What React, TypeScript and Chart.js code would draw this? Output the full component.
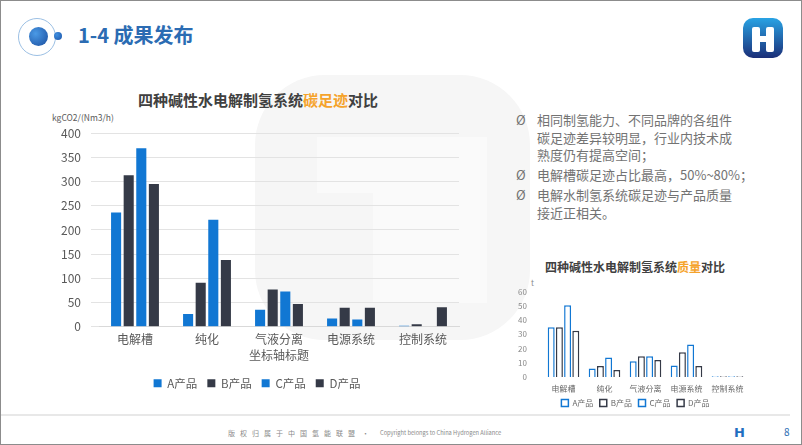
import React, { useEffect, useRef } from "react";
import { Chart, registerables } from "chart.js";
Chart.register(...registerables);

const categories = ["电解槽", "纯化", "气液分离", "电源系统", "控制系统"];
const seriesNames = ["A产品", "B产品", "C产品", "D产品"];
const carbonA = [236, 26, 35, 17, 2];
const carbonB = [313, 91, 77, 39, 5];
const carbonC = [369, 221, 73, 15, 0];
const carbonD = [295, 138, 47, 39, 40];
const massA = [35, 6, 11, 8, 0.4];
const massB = [35, 7.7, 14.5, 17.3, 0.4];
const massC = [50.5, 13.7, 14.5, 22.8, 0.4];
const massD = [32.5, 4.8, 12, 7.7, 0.4];
const carbonTicks = [0, 50, 100, 150, 200, 250, 300, 350, 400];
const massTicks = [0, 10, 20, 30, 40, 50, 60];

const FONT = "'Noto Sans CJK SC', 'Noto Sans', sans-serif";
const BLUE = "#1177d3";
const DARK = "#353a47";
const ORANGE = "#f5a32b";

function MainChart() {
  const ref = useRef<HTMLCanvasElement>(null);
  useEffect(() => {
    const colors = [BLUE, DARK, BLUE, DARK];
    const series = [carbonA, carbonB, carbonC, carbonD];
    const chart = new Chart(ref.current!, {
      type: "bar",
      data: {
        labels: categories,
        datasets: series.map((d, i) => ({
          label: seriesNames[i],
          data: d,
          backgroundColor: colors[i],
          borderWidth: 0,
          categoryPercentage: 0.7,
          barPercentage: 0.8,
        })),
      },
      options: {
        animation: false,
        responsive: false,
        maintainAspectRatio: false,
        layout: { padding: { top: 4, right: 21, bottom: 0, left: 15 } },
        plugins: {
          legend: {
            position: "bottom",
            labels: { boxWidth: 8, boxHeight: 8, color: "#595959", font: { family: FONT, size: 11.5 }, padding: 10 },
          },
          tooltip: { enabled: false },
        },
        scales: {
          x: {
            grid: { display: false },
            border: { display: true, color: "#d9d9d9" },
            ticks: { color: "#595959", font: { family: FONT, size: 12 }, padding: -2 },
            title: { display: true, text: "坐标轴标题", color: "#595959", font: { family: FONT, size: 12 }, padding: { top: 3, bottom: 5 } },
          },
          y: {
            min: 0,
            max: 400,
            afterBuildTicks: (s: any) => { s.ticks = carbonTicks.map((v) => ({ value: v })); },
            afterFit: (s: any) => { s.width = 44; },
            grid: { color: "#e3e3e3" },
            border: { display: false },
            ticks: { color: "#595959", font: { family: FONT, size: 12 }, padding: 10, autoSkip: false },
          },
        },
      },
    });
    return () => chart.destroy();
  }, []);
  return <canvas ref={ref} width={440} height={283} />;
}

const shiftLegend = {
  id: "shiftLegend",
  beforeDraw(chart: any) {
    const L = chart.legend;
    if (L && L.$shifted !== L.left) {
      L.left += 9;
      L.right += 9;
      L.$shifted = L.left;
    }
  },
};

function MassChart() {
  const ref = useRef<HTMLCanvasElement>(null);
  useEffect(() => {
    const colors = [BLUE, DARK, BLUE, DARK];
    const series = [massA, massB, massC, massD];
    const chart = new Chart(ref.current!, {
      type: "bar",
      data: {
        labels: categories,
        datasets: series.map((d, i) => ({
          label: seriesNames[i],
          data: d,
          backgroundColor: "#ffffff",
          borderColor: colors[i],
          borderWidth: 1.5,
          categoryPercentage: 0.8,
          barPercentage: 0.85,
        })),
      },
      options: {
        animation: false,
        responsive: false,
        maintainAspectRatio: false,
        layout: { padding: { top: 4, right: 22, bottom: 0, left: 0 } },
        plugins: {
          legend: {
            position: "bottom",
            labels: { boxWidth: 7, boxHeight: 7, color: "#666", font: { family: FONT, size: 8 }, padding: 6.5 },
          },
          tooltip: { enabled: false },
        },
        scales: {
          x: {
            grid: { display: false },
            border: { display: false },
            ticks: { color: "#666", font: { family: FONT, size: 8 }, padding: -1, maxRotation: 0, autoSkip: false },
          },
          y: {
            min: 0,
            max: 60,
            afterBuildTicks: (s: any) => { s.ticks = massTicks.map((v) => ({ value: v })); },
            afterFit: (s: any) => { s.width = 38; },
            grid: { display: false },
            border: { display: false },
            ticks: { color: "#888", font: { family: FONT, size: 8 }, padding: 8, autoSkip: false },
          },
        },
      },
      plugins: [shiftLegend],
    });
    return () => chart.destroy();
  }, []);
  return <canvas ref={ref} width={265} height={138} />;
}

const abs = (x: number, y: number, extra: React.CSSProperties = {}): React.CSSProperties => ({
  position: "absolute",
  left: x,
  top: y,
  ...extra,
});

export default function App() {
  useEffect(() => {
    document.body.style.margin = "0";
  }, []);
  const bullets = [
    ["相同制氢能力、不同品牌的各组件", "碳足迹差异较明显，行业内技术成", "熟度仍有提高空间；"],
    ["电解槽碳足迹占比最高，50%~80%；"],
    ["电解水制氢系统碳足迹与产品质量", "接近正相关。"],
  ];
  let by = 111;
  return (
    <div style={{ position: "fixed", left: 0, top: 0, width: 802, height: 445, background: "#fff", overflow: "hidden", fontFamily: FONT }}>
      {/* faint watermark */}
      <div style={abs(255, 75, { width: 275, height: 265, borderRadius: 70, background: "#f6f6f6" })} />
      <div style={abs(317, 137, { width: 113, height: 56, background: "#fafafa" })} />
      <div style={abs(373, 137, { width: 114, height: 166, background: "#fafafa" })} />
      {/* header */}
      <div style={abs(18, 18, { width: 38, height: 38, borderRadius: "50%", border: "1px solid #9cc0e4", boxSizing: "border-box" })} />
      <div style={abs(29, 27, { width: 19, height: 19, borderRadius: "50%", background: "radial-gradient(circle at 35% 35%, #4a9ae6, #1a4d9e)" })} />
      <div style={abs(54, 32, { width: 8, height: 8, borderRadius: "50%", background: "radial-gradient(circle at 35% 35%, #3f8fe0, #1b54a8)" })} />
      <div style={abs(78, 21, { fontSize: 20, fontWeight: 700, color: "#2b6cb3", lineHeight: "28px" })}>1-4 成果发布</div>
      {/* logo */}
      <div style={abs(743, 18, { width: 40, height: 40, borderRadius: 10, background: "linear-gradient(#29a3e4, #1b2f78)" })}>
        <div style={abs(9, 9, { width: 8, height: 25, borderRadius: 2, background: "#fff" })} />
        <div style={abs(23, 9, { width: 8, height: 25, borderRadius: 2, background: "#fff" })} />
        <div style={abs(16, 18, { width: 8, height: 6, background: "#fff" })} />
      </div>
      {/* main chart */}
      <div style={abs(38, 89, { width: 440, textAlign: "center", fontSize: 15, fontWeight: 700, color: "#404040", lineHeight: "22px" })}>
        四种碱性水电解制氢系统<span style={{ color: ORANGE }}>碳足迹</span>对比
      </div>
      <div style={abs(52, 111, { fontSize: 8.5, color: "#595959", lineHeight: "12px" })}>kgCO2/(Nm3/h)</div>
      <div style={abs(40, 116)}>
        <MainChart />
      </div>
      {/* bullets */}
      {bullets.map((lines, i) => {
        const top = by;
        by += lines.length * 17.5 + 2.5;
        return (
          <div key={i} style={abs(516, top, { fontSize: 13, color: "#737373", lineHeight: "17.5px" })}>
            <span style={{ position: "absolute", left: 0, top: 0 }}>Ø</span>
            <div style={{ marginLeft: 21, whiteSpace: "nowrap" }}>
              {lines.map((l, j) => (
                <div key={j}>{l}</div>
              ))}
            </div>
          </div>
        );
      })}
      {/* mass chart */}
      <div style={abs(505, 258, { width: 260, textAlign: "center", fontSize: 12, fontWeight: 700, color: "#404040", lineHeight: "18px" })}>
        四种碱性水电解制氢系统<span style={{ color: ORANGE }}>质量</span>对比
      </div>
      <div style={abs(531, 278, { fontSize: 8, color: "#888", lineHeight: "10px" })}>t</div>
      <div style={abs(505, 279)}>
        <MassChart />
      </div>
      {/* footer */}
      <div style={abs(0, 414, { width: 790, height: 2, background: "#e8e8e8" })} />
      <div style={abs(228, 428, { fontSize: 7, color: "#8a8a8a", letterSpacing: 5, lineHeight: "10px", whiteSpace: "nowrap" })}>版权归属于中国氢能联盟</div>
      <div style={abs(362, 428, { fontSize: 7, color: "#8a8a8a", lineHeight: "10px" })}>•</div>
      <div style={abs(380, 428, { fontSize: 5.7, color: "#8a8a8a", lineHeight: "10px", whiteSpace: "nowrap" })}>Copyright belongs to China Hydrogen Alliance</div>
      <div style={abs(734, 425, { fontSize: 13, fontWeight: 900, color: "#1f6fc0", lineHeight: "16px", fontFamily: "'DejaVu Sans', sans-serif" })}>H</div>
      <div style={abs(784, 425, { fontSize: 10, color: "#2b6cb3", lineHeight: "14px" })}>8</div>
      <div style={abs(0, 0, { width: 802, height: 445, border: "1px solid #8c8c8c", boxSizing: "border-box", pointerEvents: "none" })} />
    </div>
  );
}
